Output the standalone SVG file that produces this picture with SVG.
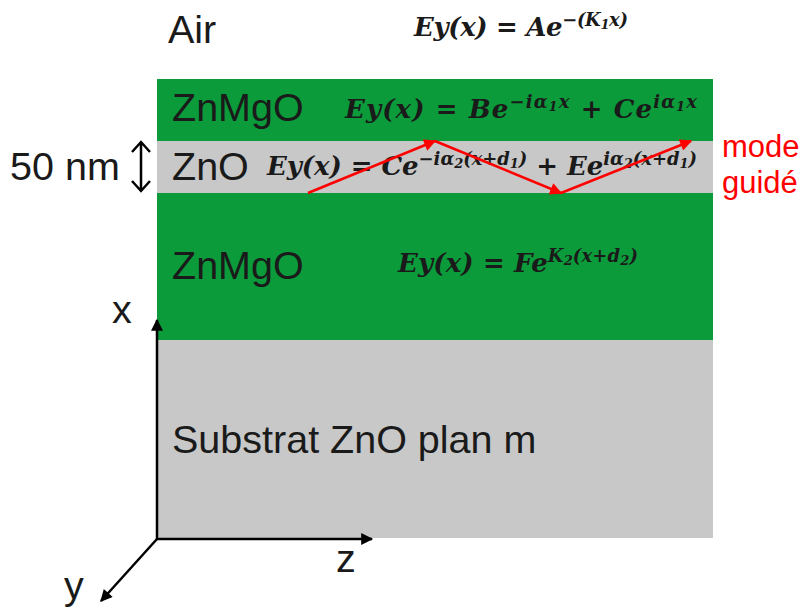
<svg xmlns="http://www.w3.org/2000/svg" width="803" height="609" viewBox="0 0 803 609">
<style>
.lbl{font-family:"Liberation Sans",Arial,sans-serif;fill:#1a1a1a;font-size:39.5px}
.eq{font-family:"DejaVu Serif","Liberation Serif",serif;font-weight:bold;font-style:italic;font-size:26px;fill:#1a1a1a}
.sp{font-size:18px}
.sb{font-size:13px}
.red{font-family:"Liberation Sans",Arial,sans-serif;fill:#ff0000;font-size:31px}
</style>
<defs>
<marker id="ahb" viewBox="0 0 10 10" refX="9" refY="5" markerWidth="14" markerHeight="12" orient="auto" markerUnits="userSpaceOnUse">
<path d="M0,0 L10,5 L0,10 z" fill="#000"/>
</marker>
<marker id="ahr" viewBox="0 0 10 10" refX="9" refY="5" markerWidth="14" markerHeight="12" orient="auto" markerUnits="userSpaceOnUse">
<path d="M0,0 L10,5 L0,10 z" fill="#ff0000"/>
</marker>
</defs>
<g id="layers">
<rect id="substrat" x="157" y="340" width="556" height="198" fill="#c8c8c8"/>
<rect id="znmgo" x="157" y="79" width="556" height="261" fill="#0b9b3a"/>
<rect id="zno" x="157" y="141" width="556" height="52" fill="#c8c8c8"/>
</g>
<g id="labels">
<text class="lbl" x="168" y="43">Air</text>
<text class="lbl" x="172" y="121">ZnMgO</text>
<text class="lbl" x="172" y="180">ZnO</text>
<text class="lbl" x="10" y="180">50 nm</text>
<text class="lbl" x="172" y="279">ZnMgO</text>
<text class="lbl" x="172" y="453">Substrat ZnO plan m</text>
<text class="lbl" x="112" y="323" font-size="33">x</text>
<text class="lbl" x="336" y="572" font-size="33">z</text>
<text class="lbl" x="64" y="599" font-size="32">y</text>
<text class="red" x="722" y="157">mode</text>
<text class="red" x="722" y="193">guidé</text>
</g>
<g id="equations">
<text class="eq" x="414" y="36" textLength="214" lengthAdjust="spacing">Ey(x) = Ae<tspan class="sp" dy="-10">−(K</tspan><tspan class="sb" dy="3">1</tspan><tspan class="sp" dy="-3">x)</tspan></text>
<text class="eq" x="345" y="118" textLength="352" lengthAdjust="spacing">Ey(x) = Be<tspan class="sp" dy="-10">−iα</tspan><tspan class="sb" dy="3">1</tspan><tspan class="sp" dy="-3">x</tspan><tspan dy="10"> + Ce</tspan><tspan class="sp" dy="-10">iα</tspan><tspan class="sb" dy="3">1</tspan><tspan class="sp" dy="-3">x</tspan></text>
<text class="eq" x="267" y="175" textLength="430" lengthAdjust="spacing">Ey(x) = Ce<tspan class="sp" dy="-10">−iα</tspan><tspan class="sb" dy="3">2</tspan><tspan class="sp" dy="-3">(x+d</tspan><tspan class="sb" dy="3">1</tspan><tspan class="sp" dy="-3">)</tspan><tspan dy="10"> + Ee</tspan><tspan class="sp" dy="-10">iα</tspan><tspan class="sb" dy="3">2</tspan><tspan class="sp" dy="-3">(x+d</tspan><tspan class="sb" dy="3">1</tspan><tspan class="sp" dy="-3">)</tspan></text>
<text class="eq" x="398" y="272" textLength="240" lengthAdjust="spacing">Ey(x) = Fe<tspan class="sp" dy="-10">K</tspan><tspan class="sb" dy="3">2</tspan><tspan class="sp" dy="-3">(x+d</tspan><tspan class="sb" dy="3">2</tspan><tspan class="sp" dy="-3">)</tspan></text>
</g>
<g id="connectors" fill="none">
<path d="M308,193 L435,141" stroke="#ff0000" stroke-width="2.5" marker-end="url(#ahr)"/>
<path d="M435,141 L561,193" stroke="#ff0000" stroke-width="2.5" marker-end="url(#ahr)"/>
<path d="M561,193 L691,141" stroke="#ff0000" stroke-width="2.5" marker-end="url(#ahr)"/>
<path d="M157,539 L157,320" stroke="#000" stroke-width="2.5" marker-end="url(#ahb)"/>
<path d="M157,539 L372,539" stroke="#000" stroke-width="2.5" marker-end="url(#ahb)"/>
<path d="M157,539 L101,601" stroke="#000" stroke-width="2.5" marker-end="url(#ahb)"/>
<path d="M141,143 L141,190 M132,152 L141,142 L150,152 M132,181 L141,191 L150,181" stroke="#000" stroke-width="2.5"/>
</g>
</svg>
